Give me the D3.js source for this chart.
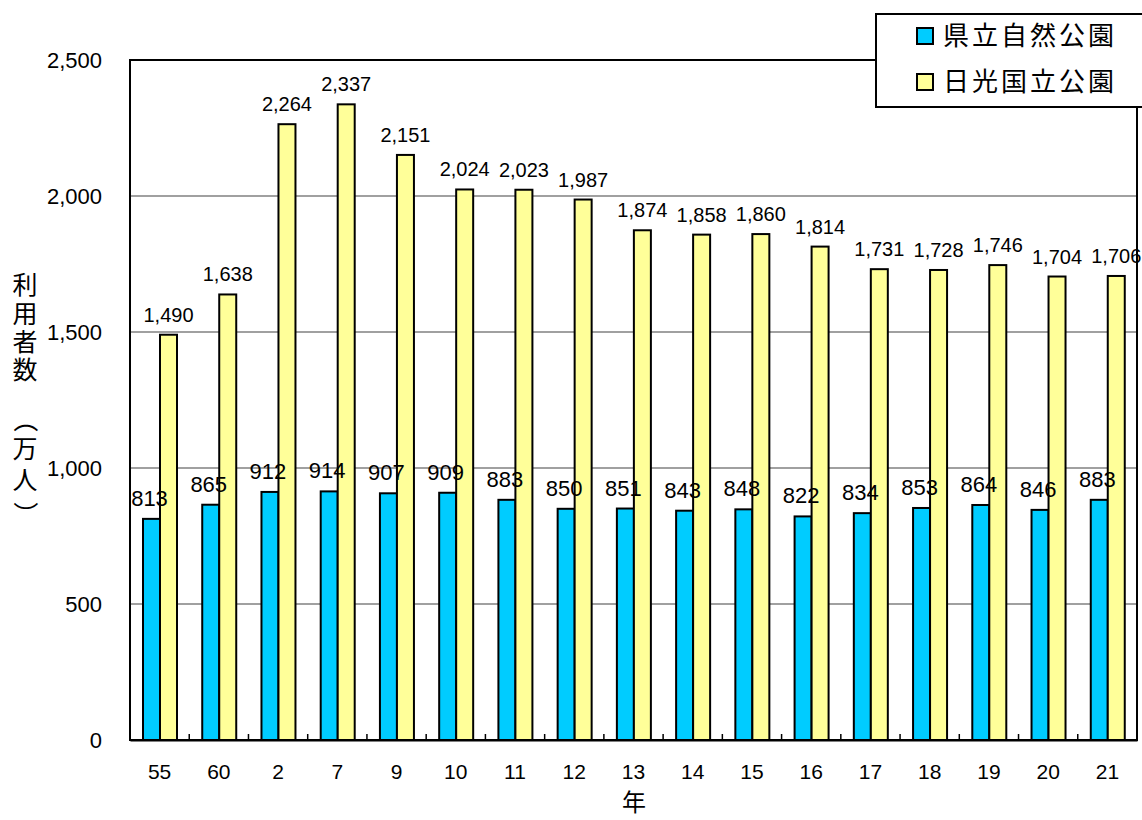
<!DOCTYPE html>
<html>
<head>
<meta charset="utf-8">
<script src="https://cdn.jsdelivr.net/npm/d3@7"></script>
<style>
  body { margin: 0; background: #fff; }
</style>
</head>
<body>
<div id="container"></div>
<script>
// 年
const years = ["55", "60", "2", "7", "9", "10", "11", "12", "13", "14", "15", "16", "17", "18", "19", "20", "21"];
// 県立自然公園 (万人)
const prefParks = [813, 865, 912, 914, 907, 909, 883, 850, 851, 843, 848, 822, 834, 853, 864, 846, 883];
// 日光国立公園 (万人)
const nikko = [1490, 1638, 2264, 2337, 2151, 2024, 2023, 1987, 1874, 1858, 1860, 1814, 1731, 1728, 1746, 1704, 1706];
const seriesNames = ["県立自然公園", "日光国立公園"];
const seriesColors = ["#00ccff", "#ffff99"];
const yTicks = [0, 500, 1000, 1500, 2000, 2500];
const yTitle = "利用者数（万人）";

const w = 1142;
const h = 820;
const plotL = 130, plotR = 1137, plotT = 60, plotB = 740;
const numFont = "'Liberation Sans', Arial, sans-serif";
const jpFont = "'Noto Sans CJK JP', sans-serif";

const svg = d3.select("#container")
  .append("svg")
  .attr("width", w)
  .attr("height", h);

const x0 = d3.scaleBand()
  .domain(years)
  .range([plotL, plotR]);

const x1 = d3.scaleBand()
  .domain(seriesNames)
  .range([13, 47]);

const y = d3.scaleLinear()
  .domain([0, 2500])
  .range([plotB, plotT]);

// gridlines
svg.append("g")
  .selectAll("line")
  .data(yTicks.slice(1, -1))
  .enter()
  .append("line")
  .attr("x1", plotL)
  .attr("x2", plotR)
  .attr("y1", d => y(d))
  .attr("y2", d => y(d))
  .attr("stroke", "#808080")
  .attr("stroke-width", 1.5);

// plot frame
svg.append("rect")
  .attr("x", plotL)
  .attr("y", plotT)
  .attr("width", plotR - plotL)
  .attr("height", plotB - plotT)
  .attr("fill", "none")
  .attr("stroke", "#000")
  .attr("stroke-width", 2);

const rows = years.map((yr, i) => ({ yr: yr, vals: [prefParks[i], nikko[i]] }));

const groups = svg.selectAll(".grp")
  .data(rows)
  .enter()
  .append("g")
  .attr("class", "grp")
  .attr("transform", d => "translate(" + x0(d.yr) + ",0)");

groups.selectAll("rect")
  .data(d => d.vals.map((v, k) => ({ name: seriesNames[k], v: v, k: k })))
  .enter()
  .append("rect")
  .attr("x", d => x1(d.name))
  .attr("y", d => y(d.v))
  .attr("width", x1.bandwidth())
  .attr("height", d => y(0) - y(d.v))
  .attr("fill", d => seriesColors[d.k])
  .attr("stroke", "#000")
  .attr("stroke-width", 2);

// value labels
groups.selectAll("text")
  .data(d => d.vals.map((v, k) => ({ name: seriesNames[k], v: v, k: k })))
  .enter()
  .append("text")
  .attr("x", d => x1(d.name) + x1.bandwidth() / 2 - (d.k === 0 ? 2 : 0))
  .attr("y", d => y(d.v) - 13)
  .attr("text-anchor", "middle")
  .style("font-family", numFont)
  .style("font-size", d => d.k === 0 ? "22px" : "20px")
  .text(d => d3.format(",")(d.v));

// x axis
const xAxis = d3.axisBottom(x0).tickSize(0).tickPadding(24);
svg.append("g")
  .attr("transform", "translate(0," + plotB + ")")
  .call(xAxis)
  .call(g => g.select(".domain").attr("stroke", "#000").attr("stroke-width", 2))
  .call(g => g.selectAll("text").style("font-family", numFont).style("font-size", "21px").attr("fill", "#000"));

// inward ticks between categories
svg.append("g")
  .selectAll("line")
  .data(years.slice(1))
  .enter()
  .append("line")
  .attr("x1", d => x0(d))
  .attr("x2", d => x0(d))
  .attr("y1", plotB)
  .attr("y2", plotB - 6)
  .attr("stroke", "#000")
  .attr("stroke-width", 1.5);

// y axis
const yAxis = d3.axisLeft(y).tickValues(yTicks).tickSize(0).tickPadding(28).tickFormat(d3.format(","));
svg.append("g")
  .attr("transform", "translate(" + plotL + ",0)")
  .call(yAxis)
  .call(g => g.select(".domain").remove())
  .call(g => g.selectAll("text").style("font-family", numFont).style("font-size", "22px").attr("fill", "#000"));

// axis titles
svg.append("text")
  .attr("x", 634)
  .attr("y", 811)
  .attr("text-anchor", "middle")
  .style("font-family", jpFont)
  .style("font-size", "24px")
  .text("年");

// vertical title, one character per line
const titleY = [285, 314, 342, 370, 420, 449, 480, 514];
svg.append("g")
  .selectAll("text")
  .data(yTitle.split(""))
  .enter()
  .append("text")
  .attr("transform", (d, i) => "translate(25," + titleY[i] + ")" + ("（）".includes(d) ? " rotate(90)" : ""))
  .attr("text-anchor", "middle")
  .attr("dy", "0.35em")
  .style("font-family", jpFont)
  .style("font-size", "25px")
  .text(d => d);

// legend
const legend = svg.append("g");
legend.append("rect")
  .attr("x", 876)
  .attr("y", 14)
  .attr("width", 280)
  .attr("height", 93)
  .attr("fill", "#fff")
  .attr("stroke", "#000")
  .attr("stroke-width", 2);

const items = legend.selectAll(".item")
  .data(seriesNames)
  .enter()
  .append("g")
  .attr("class", "item")
  .attr("transform", (d, i) => "translate(917," + (36 + i * 46) + ")");

items.append("rect")
  .attr("x", 0)
  .attr("y", -8)
  .attr("width", 16)
  .attr("height", 16)
  .attr("fill", (d, i) => seriesColors[i])
  .attr("stroke", "#000")
  .attr("stroke-width", 2);

items.append("text")
  .attr("x", 26)
  .attr("y", 0)
  .attr("dy", "0.36em")
  .style("font-family", jpFont)
  .style("font-size", "26px")
  .style("letter-spacing", "3px")
  .text(d => d);
</script>
</body>
</html>
